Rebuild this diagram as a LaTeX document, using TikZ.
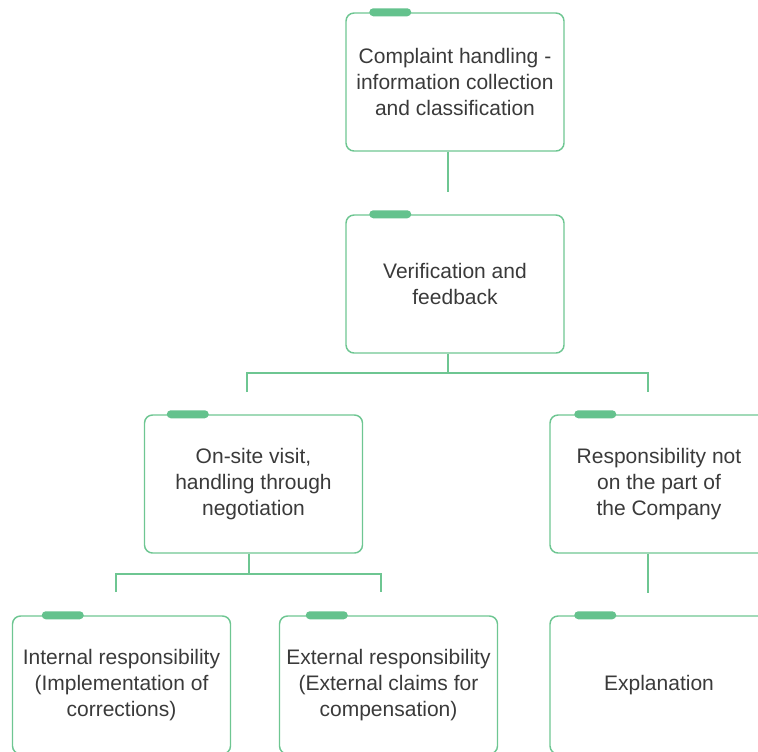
\documentclass[tikz,border=0pt]{standalone}
\usepackage{fontspec}
\setmainfont{Liberation Sans}
\usepackage{tikz}

\definecolor{linegreen}{RGB}{110,198,146}
\definecolor{tabgreen}{RGB}{100,194,141}
\definecolor{textgray}{RGB}{58,58,58}

\begin{document}
\begin{tikzpicture}[x=0.75pt,y=0.75pt,yscale=-1,xscale=1,
    stepcard/.style={draw=linegreen,line width=1.1pt,rounded corners=6pt,minimum width=163.5pt,minimum height=103.5pt,inner sep=0pt,align=center,text=textgray,font=\fontsize{15.75}{19.5}\selectfont},
    cardtab/.style={fill=tabgreen,rounded corners=3pt},
    link/.style={draw=linegreen,line width=1.1pt}]
    %set diagram frame to 758 x 751
    \useasboundingbox (0,0) rectangle (758,751);

    % Card: top
    \node[stepcard] (collect) at (455,82) {Complaint handling -\\information collection\\and classification};
    % Card: second level
    \node[stepcard] (verify) at (455,284) {Verification and\\feedback};
    % Card: third level
    \node[stepcard] (visit) at (253.5,484) {On-site visit,\\handling through\\negotiation};
    \node[stepcard] (notours) at (659,484) {Responsibility not\\on the part of\\the Company};
    % Card: bottom level
    \node[stepcard] (internal) at (121.5,685) {Internal responsibility\\(Implementation of\\corrections)};
    \node[stepcard] (external) at (388.5,685) {External responsibility\\(External claims for\\compensation)};
    \node[stepcard] (explain) at (659,685) {Explanation};

    % Tabs
    \fill[cardtab] ([shift={(24,-4)}]collect.north west) rectangle ++(42,8);
    \fill[cardtab] ([shift={(24,-4)}]verify.north west) rectangle ++(42,8);
    \fill[cardtab] ([shift={(23,-4)}]visit.north west) rectangle ++(42,8);
    \fill[cardtab] ([shift={(25,-4)}]notours.north west) rectangle ++(42,8);
    \fill[cardtab] ([shift={(30,-4)}]internal.north west) rectangle ++(42,8);
    \fill[cardtab] ([shift={(27,-4)}]external.north west) rectangle ++(42,8);
    \fill[cardtab] ([shift={(25,-4)}]explain.north west) rectangle ++(42,8);

    % Connector ends
    \coordinate (collectend) at (448,192);
    \coordinate (verifyhub) at (448,373);
    \coordinate (visitend) at (247,392);
    \coordinate (notoursend) at (648,392);
    \coordinate (visithub) at (249,574);
    \coordinate (internalend) at (116,592);
    \coordinate (externalend) at (381,592);
    \coordinate (explainend) at (648,593);

    % Connectors
    \draw[link] (collect.south -| collectend) -- (collectend);
    \draw[link] (verify.south -| verifyhub) -- (verifyhub);
    \draw[link] (visitend) -- (visitend |- verifyhub) -- (notoursend |- verifyhub) -- (notoursend);
    \draw[link] (visit.south -| visithub) -- (visithub);
    \draw[link] (internalend) -- (internalend |- visithub) -- (externalend |- visithub) -- (externalend);
    \draw[link] (notours.south -| explainend) -- (explainend);

\end{tikzpicture}
\end{document}
